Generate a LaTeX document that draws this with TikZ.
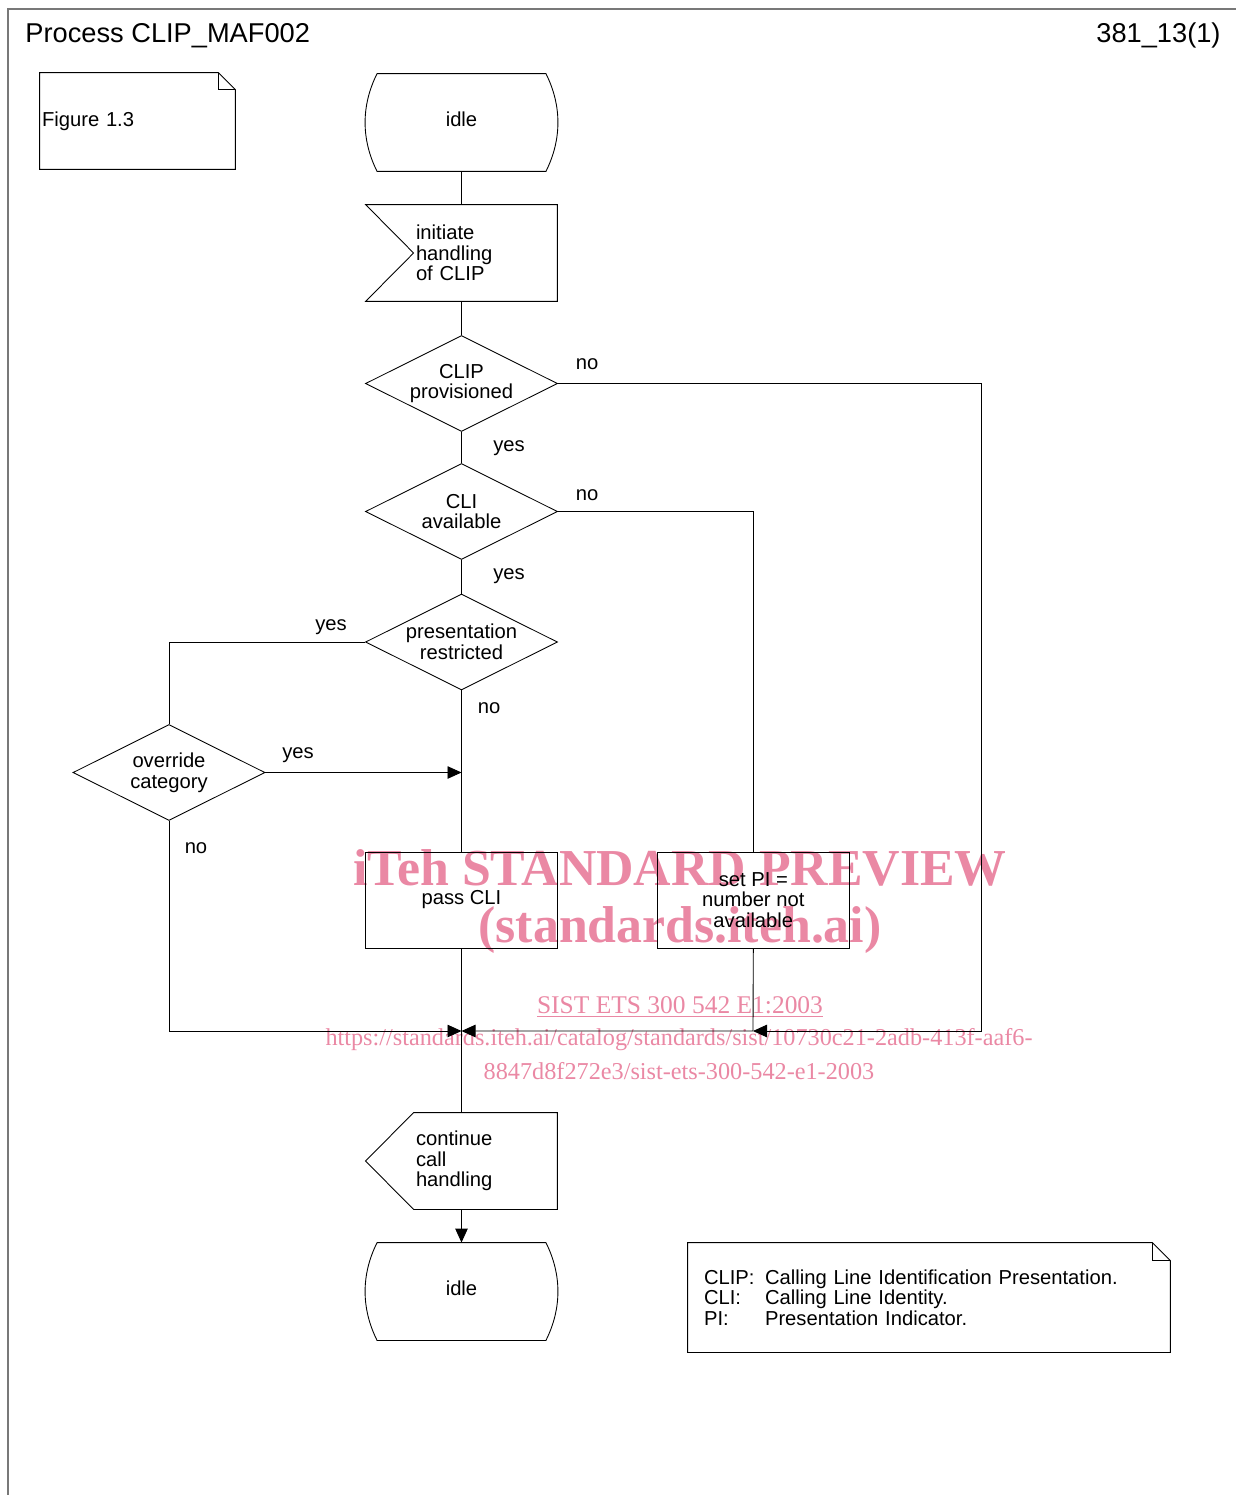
\documentclass[tikz,border=0pt]{standalone}
\usepackage{fontspec}
\setmainfont{Liberation Sans}
\newfontfamily\wmfont{Liberation Serif}
\usepackage{tikz}
\usetikzlibrary{arrows.meta, positioning, shapes.geometric, calc}

\definecolor{framegray}{RGB}{120,120,120}
\definecolor{wmpink}{RGB}{234,136,164}

% SDL symbol outlines, drawn round a named node
\newcommand{\statesym}[1]{%
  \draw ($(#1.north west)+(12,0)$) -- ($(#1.north east)+(-12,0)$)
    .. controls ($(#1.north east)+(4,32)$) and ($(#1.south east)+(4,-32)$) .. ($(#1.south east)+(-12,0)$)
    -- ($(#1.south west)+(12,0)$)
    .. controls ($(#1.south west)+(-4,-32)$) and ($(#1.north west)+(-4,32)$) .. cycle;}
\newcommand{\insym}[1]{%
  \draw (#1.north west) -- (#1.north east) -- (#1.south east) -- (#1.south west)
    -- ($(#1.west)+(48,0)$) -- cycle;}
\newcommand{\outsym}[1]{%
  \draw ($(#1.north west)+(48,0)$) -- (#1.north east) -- (#1.south east)
    -- ($(#1.south west)+(48,0)$) -- (#1.west) -- cycle;}
\newcommand{\notesym}[2]{%
  \draw (#1.north west) -- ($(#1.north east)+(-#2,0)$) -- ($(#1.north east)+(0,#2)$)
    -- (#1.south east) -- (#1.south west) -- cycle;
  \draw ($(#1.north east)+(-#2,0)$) -- ($(#1.north east)+(-#2,#2)$) -- ($(#1.north east)+(0,#2)$);}

\begin{document}
\begin{tikzpicture}[
    x=0.02cm, y=-0.02cm, line width=0.5pt,
    every node/.style={font=\fontsize{11.5}{11.8}\selectfont, inner sep=0pt},
    statebox/.style={minimum width=3.84cm, minimum height=1.94cm, text depth=0.12cm},
    signalbox/.style={minimum width=3.82cm, minimum height=1.92cm, text width=1.82cm, inner xsep=1cm, align=left},
    decision/.style={diamond, draw, aspect=2, minimum width=3.84cm, minimum height=1.92cm, align=center},
    task/.style={rectangle, draw, minimum width=3.84cm, minimum height=1.92cm, align=center},
    flow/.style={-{Triangle[length=0.28cm, width=0.25cm]}},
    wm/.style={text=wmpink}
  ]
  \useasboundingbox (0,0) rectangle (1236,1495);

  % watermark, behind the chart
  \node[wm, font=\wmfont\bfseries\fontsize{29.5}{32}\selectfont] (wm1) at (680,868) {iTeh STANDARD PREVIEW};
  \node[wm, font=\wmfont\bfseries\fontsize{29.5}{32}\selectfont] (wm2) at (680,930) {(standards.iteh.ai)};
  \node[wm, font=\wmfont\fontsize{14.5}{16}\selectfont] (wm3) at (680,1007) {\underline{SIST ETS 300 542 E1:2003}};
  \node[wm, font=\wmfont\fontsize{13.8}{16}\selectfont] (wm4) at (679,1040) {https://standards.iteh.ai/catalog/standards/sist/10730c21-2adb-413f-aaf6-};
  \node[wm, font=\wmfont\fontsize{13.8}{16}\selectfont] (wm5) at (679,1071) {8847d8f272e3/sist-ets-300-542-e1-2003};

  \draw[framegray, line width=1.1pt] (8,1495) -- (8,9) -- (1236,9);

  \node[anchor=base west, font=\fontsize{15.5}{18}\selectfont] (title) at (25,42) {Process CLIP\_MAF002};
  \node[anchor=base east, font=\fontsize{15.5}{18}\selectfont] (page) at (1221,42) {381\_13(1)};

  \node[minimum width=3.9cm, minimum height=1.92cm, text width=3.82cm, inner xsep=0.04cm, align=left] (fig) at (137.5,121) {Figure 1.3};
  \notesym{fig}{17}

  % main flow
  \node[statebox] (idle1) at (461.5,122.5) {idle};
  \statesym{idle1}
  \node[signalbox] (init) at (461.5,253) {initiate\\handling\\of CLIP};
  \insym{init}
  \node[decision] (d1) at (461.5,383.5) {CLIP\\provisioned};
  \node[decision] (d2) at (461.5,511.5) {CLI\\available};
  \node[decision] (d3) at (461.5,642) {presentation\\restricted};
  \node[decision] (d4) at (169,772.5) {override\\category};
  \node[task] (pass) at (461.5,900) {pass CLI};
  \node[task, right=1.98cm of pass] (setpi) {set PI =\\number not\\available};
  \node[signalbox] (cont) at (461.5,1161) {continue\\call\\handling};
  \outsym{cont}
  \node[statebox] (idle2) at (461.5,1291.5) {idle};
  \statesym{idle2}

  \node[minimum width=9.64cm, minimum height=2.18cm, text width=9cm, inner xsep=0.32cm, align=left] (note) at (929,1297.5)
    {\makebox[1.22cm][l]{CLIP:}Calling Line Identification Presentation.\\
     \makebox[1.22cm][l]{CLI:}Calling Line Identity.\\
     \makebox[1.22cm][l]{PI:}Presentation Indicator.};
  \notesym{note}{18}

  \coordinate (j1) at (461.5,1031);
  \coordinate (j2) at (753,1031);
  \coordinate (rt) at (981,1031);

  \draw (idle1.south) -- (init.north);
  \draw (init.south) -- (d1.north);
  \draw (d1.south) -- (d2.north);
  \draw[flow] (d1.east) -| (rt) -- (j2);
  \draw (d2.south) -- (d3.north);
  \draw (d2.east) -| (setpi.north);
  \draw (d3.west) -| (d4.north);
  \draw (d3.south) -- (pass.north);
  \draw[flow] (d4.east) -- (d4.east -| pass.north);
  \draw[flow] (d4.south) |- (j1);
  \draw[flow] (setpi.south) -- (j2) -- (j1);
  \draw (pass.south) -- (cont.north);
  \draw[flow] (cont.south) -- (idle2.north);

  \node (no1) at (587,364) {no};
  \node (yes1) at (509,448) {yes};
  \node (no2) at (587,495) {no};
  \node (yes2) at (509,576) {yes};
  \node (yes3) at (331,627) {yes};
  \node (no3) at (489,708) {no};
  \node (yes4) at (298,755) {yes};
  \node (no4) at (196,848) {no};
\end{tikzpicture}
\end{document}
